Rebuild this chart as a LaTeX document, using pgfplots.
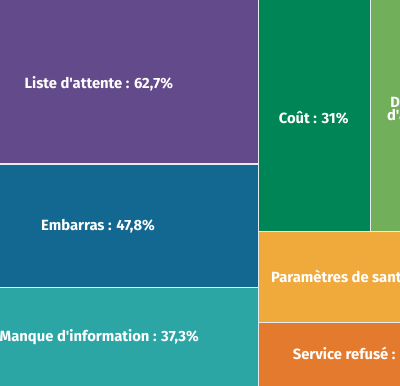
\documentclass[border=0pt]{standalone}
\usepackage{pgfplots}
\pgfplotsset{compat=1.18}
\usepackage{fontspec}
\newfontfamily\lab{Fira Sans}
\definecolor{cPurple}{HTML}{634A8A}
\definecolor{cBlue}{HTML}{136891}
\definecolor{cTeal}{HTML}{2BA6A5}
\definecolor{cGreen}{HTML}{008556}
\definecolor{cLGreen}{HTML}{71AF5A}
\definecolor{cYellow}{HTML}{F0AA3C}
\definecolor{cOrange}{HTML}{E37A2E}
\definecolor{cLine}{HTML}{E4ECEE}
\tikzset{lbl/.style={text=white, font=\lab\bfseries\fontsize{14.8}{16}\selectfont, inner sep=0pt, anchor=base west}}
\begin{document}
\begin{tikzpicture}
\begin{axis}[
  width=400pt, height=386pt, scale only axis,
  xmin=0, xmax=400, ymin=0, ymax=386, y dir=reverse,
  hide axis, clip=true,
  every axis plot/.append style={draw=cLine, line width=1.3pt},
]
% Left column
\addplot[fill=cPurple] coordinates {(-60,-5) (258.3,-5) (258.3,164) (-60,164)} -- cycle;
\addplot[fill=cBlue] coordinates {(-60,164) (258.3,164) (258.3,287.7) (-60,287.7)} -- cycle;
\addplot[fill=cTeal] coordinates {(-60,287.7) (258.3,287.7) (258.3,392) (-60,392)} -- cycle;
% Right block
\addplot[fill=cGreen] coordinates {(258.3,-5) (370.3,-5) (370.3,231.7) (258.3,231.7)} -- cycle;
\addplot[fill=cLGreen] coordinates {(370.3,-5) (484,-5) (484,231.7) (370.3,231.7)} -- cycle;
\addplot[fill=cYellow] coordinates {(258.3,231.7) (484,231.7) (484,322.3) (258.3,322.3)} -- cycle;
\addplot[fill=cOrange] coordinates {(258.3,322.3) (484,322.3) (484,392) (258.3,392)} -- cycle;
% Labels
\node[lbl] at (axis cs:24.3,88.7) {Liste d'attente : 62,7\%};
\node[lbl] at (axis cs:41,230.7) {Embarras : 47,8\%};
\node[lbl] at (axis cs:-0.5,341.3) {Manque d'information : 37,3\%};
\node[lbl] at (axis cs:278.6,123) {Coût : 31\%};
\node[lbl] at (axis cs:390.2,107) {Difficulté};
\node[lbl] at (axis cs:386.8,120.5) {d'accès};
\node[lbl] at (axis cs:412,134) {31,3\%};
\node[lbl] at (axis cs:271,282.7) {Paramètres de santé : 24,4\%};
\node[lbl] at (axis cs:292.6,359) {Service refusé : 17,1\%};
\end{axis}
\pgfresetboundingbox
\path[use as bounding box] (0,0) rectangle (400pt,386pt);
\end{tikzpicture}
\end{document}
